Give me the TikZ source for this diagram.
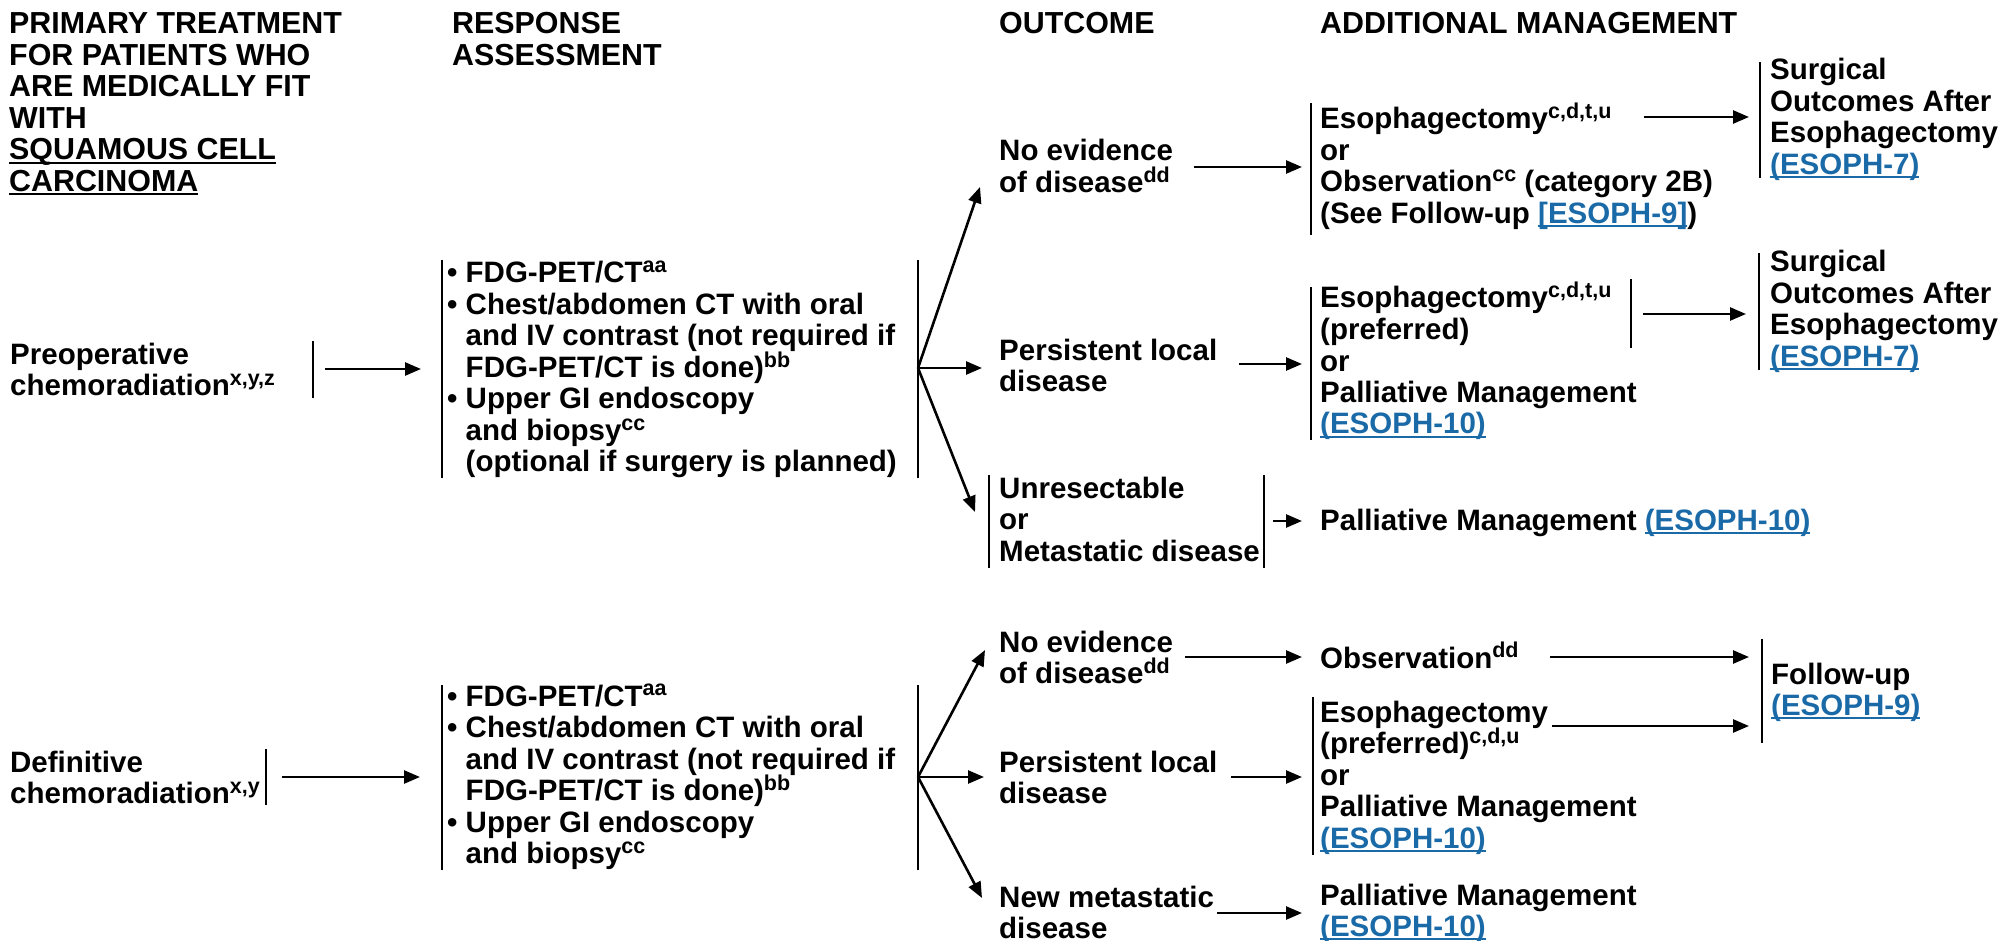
\documentclass[tikz,border=0pt]{standalone}
\usepackage{fontspec}
\setmainfont{Liberation Sans}
\usetikzlibrary{arrows.meta}
\definecolor{linkblue}{RGB}{26,106,168}
\newcommand\fnt{\fontsize{29.5}{31.5}\selectfont\bfseries}
\newcommand\hfnt{\fontsize{30.4}{31.5}\selectfont\bfseries}
\newcommand\sps[1]{\raisebox{0.35em}[0pt][0pt]{\fontsize{21.5}{21.5}\selectfont #1}}
\newcommand\undl[1]{{\setbox0=\hbox{#1}\rlap{\rule[-3.8pt]{\wd0}{2.2pt}}\box0}}
\newcommand\lnk[1]{{\color{linkblue}\undl{#1}}}
\newcommand\tb[1]{\begin{tabular}[t]{@{}l@{}}#1\end{tabular}}
\newcommand\bul{\textbullet\ }
\newcommand\hng{\hphantom{\textbullet\ }}
\tikzset{
  txt/.style={inner sep=0pt, anchor=base west, font=\fnt},
  hdr/.style={inner sep=0pt, anchor=base west, font=\hfnt},
  bar/.style={line width=2.6pt},
  arr/.style={line width=2.6pt, -{Triangle[length=16pt,width=13pt]}}
}
\begin{document}
\begin{tikzpicture}[x=1pt,y=-1pt]
\useasboundingbox (0,0) rectangle (1999,941);
% headers
\node[hdr] (hdrA) at (9,34) {\tb{PRIMARY TREATMENT\\FOR PATIENTS WHO\\ARE MEDICALLY FIT\\WITH\\\undl{SQUAMOUS CELL}\\\undl{CARCINOMA}}};
\node[hdr] (hdrB) at (452,34) {\tb{RESPONSE\\ASSESSMENT}};
\node[hdr] (hdrC) at (999,34) {OUTCOME};
\node[hdr] (hdrD) at (1320,34) {ADDITIONAL MANAGEMENT};
% primary treatments
\node[txt] (preop) at (10,364) {\tb{Preoperative\\chemoradiation\sps{x,y,z}}};
\node[txt] (defin) at (10,772) {\tb{Definitive\\chemoradiation\sps{x,y}}};
% assessments
\node[txt] (asA) at (447,283) {\tb{\bul FDG-PET/CT\sps{aa}\\\bul Chest/abdomen CT with oral\\\hng and IV contrast (not required if\\\hng FDG-PET/CT is done)\sps{bb}\\\bul Upper GI endoscopy\\\hng and biopsy\sps{cc}\\\hng (optional if surgery is planned)}};
\node[txt] (asB) at (447,706) {\tb{\bul FDG-PET/CT\sps{aa}\\\bul Chest/abdomen CT with oral\\\hng and IV contrast (not required if\\\hng FDG-PET/CT is done)\sps{bb}\\\bul Upper GI endoscopy\\\hng and biopsy\sps{cc}}};
% outcomes
\node[txt] (ne1) at (999,161) {\tb{No evidence\\of disease\sps{dd}}};
\node[txt] (pl1) at (999,360) {\tb{Persistent local\\disease}};
\node[txt] (un) at (999,498) {\tb{Unresectable\\or\\Metastatic disease}};
\node[txt] (ne2) at (999,652) {\tb{No evidence\\of disease\sps{dd}}};
\node[txt] (pl2) at (999,772) {\tb{Persistent local\\disease}};
\node[txt] (nm) at (999,907) {\tb{New metastatic\\disease}};
% additional management
\node[txt] (esoA) at (1320,129) {\tb{Esophagectomy\sps{c,d,t,u}\\or\\Observation\sps{cc} (category 2B)\\(See Follow-up \lnk{[ESOPH-9]})}};
\node[txt] (surgA) at (1770,80) {\tb{Surgical\\Outcomes After\\Esophagectomy\\\lnk{(ESOPH-7)}}};
\node[txt] (esoB) at (1320,308) {\tb{Esophagectomy\sps{c,d,t,u}\\(preferred)\\or\\Palliative Management\\\lnk{(ESOPH-10)}}};
\node[txt] (surgB) at (1770,272) {\tb{Surgical\\Outcomes After\\Esophagectomy\\\lnk{(ESOPH-7)}}};
\node[txt] (pal1) at (1320,530) {Palliative Management \lnk{(ESOPH-10)}};
\node[txt] (obs) at (1320,668) {Observation\sps{dd}};
\node[txt] (esoC) at (1320,722) {\tb{Esophagectomy\\(preferred)\sps{c,d,u}\\or\\Palliative Management\\\lnk{(ESOPH-10)}}};
\node[txt] (fu) at (1771,684) {\tb{Follow-up\\\lnk{(ESOPH-9)}}};
\node[txt] (pal2) at (1320,905) {\tb{Palliative Management\\\lnk{(ESOPH-10)}}};
% coordinates: bars
\coordinate (preopT) at (313,341); \coordinate (preopB) at (313,398);
\coordinate (definT) at (266,749); \coordinate (definB) at (266,805);
\coordinate (asALT) at (442,260); \coordinate (asALB) at (442,478);
\coordinate (asART) at (918,260); \coordinate (asARB) at (918,478);
\coordinate (asBLT) at (442,685); \coordinate (asBLB) at (442,870);
\coordinate (asBRT) at (918,685); \coordinate (asBRB) at (918,870);
\coordinate (unLT) at (989,475); \coordinate (unLB) at (989,568);
\coordinate (unRT) at (1264,475); \coordinate (unRB) at (1264,568);
\coordinate (esoAT) at (1311,103); \coordinate (esoAB) at (1311,235);
\coordinate (surgAT) at (1760,62); \coordinate (surgAB) at (1760,178);
\coordinate (esoBT) at (1311,287); \coordinate (esoBB) at (1311,440);
\coordinate (esoBrT) at (1631,279); \coordinate (esoBrB) at (1631,348);
\coordinate (surgBT) at (1759,253); \coordinate (surgBB) at (1759,370);
\coordinate (esoCT) at (1313,697); \coordinate (esoCB) at (1313,855);
\coordinate (fuT) at (1762,639); \coordinate (fuB) at (1762,743);
\foreach \a/\b in {preopT/preopB, definT/definB, asALT/asALB, asART/asARB,
  asBLT/asBLB, asBRT/asBRB, unLT/unLB, unRT/unRB, esoAT/esoAB, surgAT/surgAB,
  esoBT/esoBB, esoBrT/esoBrB, surgBT/surgBB, esoCT/esoCB, fuT/fuB}
  \draw[bar] (\a) -- (\b);
% coordinates: arrows
\coordinate (p1s) at (325,369); \coordinate (p1e) at (421,369);
\coordinate (d1s) at (282,777); \coordinate (d1e) at (420,777);
\coordinate (fA) at (918,368);
\coordinate (fAu) at (980,187); \coordinate (fAm) at (982,368); \coordinate (fAd) at (975,512);
\coordinate (fB) at (918,777);
\coordinate (fBu) at (985,650); \coordinate (fBm) at (984,777); \coordinate (fBd) at (982,898);
\coordinate (ne1s) at (1194,167); \coordinate (ne1e) at (1302,167);
\coordinate (pl1s) at (1239,364); \coordinate (pl1e) at (1302,364);
\coordinate (uns) at (1273,521); \coordinate (une) at (1302,521);
\coordinate (eAs) at (1644,117); \coordinate (eAe) at (1749,117);
\coordinate (eBs) at (1643,314); \coordinate (eBe) at (1746,314);
\coordinate (ne2s) at (1185,657); \coordinate (ne2e) at (1302,657);
\coordinate (obss) at (1550,657); \coordinate (obse) at (1749,657);
\coordinate (pl2s) at (1231,777); \coordinate (pl2e) at (1302,777);
\coordinate (eCs) at (1552,726); \coordinate (eCe) at (1749,726);
\coordinate (nms) at (1217,913); \coordinate (nme) at (1302,913);
\foreach \a/\b in {p1s/p1e, d1s/d1e, fA/fAu, fA/fAm, fA/fAd, fB/fBu, fB/fBm, fB/fBd,
  ne1s/ne1e, pl1s/pl1e, uns/une, eAs/eAe, eBs/eBe, ne2s/ne2e, obss/obse,
  pl2s/pl2e, eCs/eCe, nms/nme}
  \draw[arr] (\a) -- (\b);
\end{tikzpicture}
\end{document}
